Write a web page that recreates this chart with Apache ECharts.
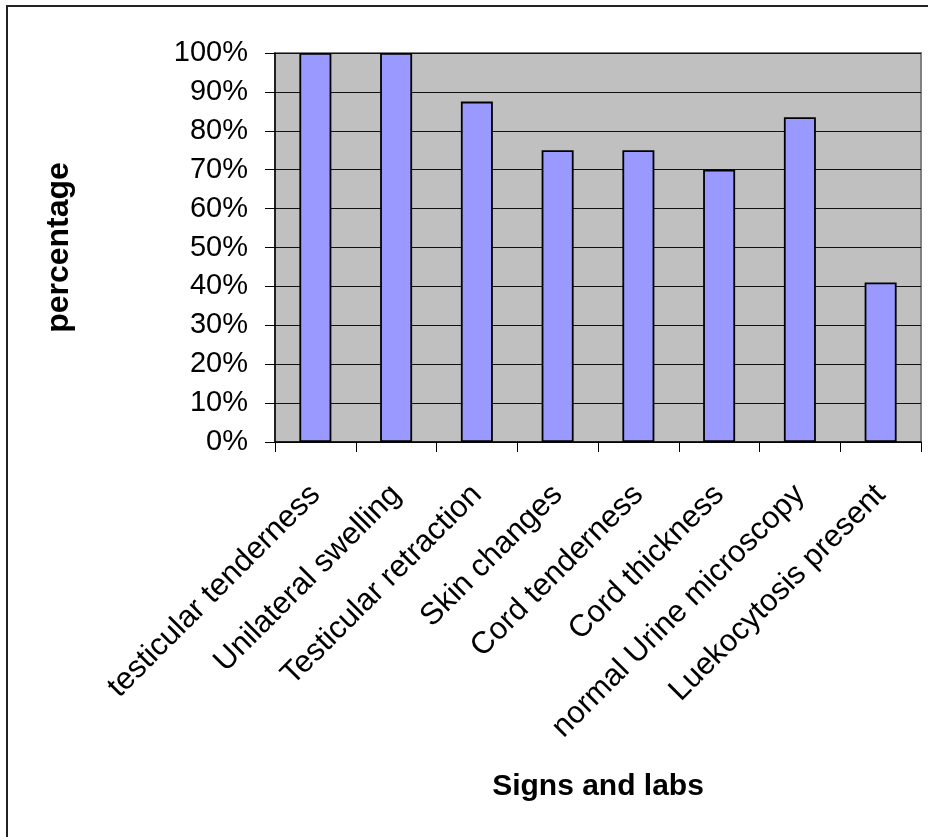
<!DOCTYPE html>
<html>
<head>
<meta charset="utf-8">
<script src="https://cdn.jsdelivr.net/npm/echarts@6/dist/echarts.min.js"></script>
<style>
html,body{margin:0;padding:0;background:#fff;}
#chart{width:928px;height:837px;}
</style>
</head>
<body>
<div id="chart"></div>
<script>
var categories = ["testicular tenderness","Unilateral swelling","Testicular retraction","Skin changes","Cord tenderness","Cord thickness","normal Urine microscopy","Luekocytosis present"];
var values = [100, 100, 87.5, 75, 75, 70, 83.5, 41];
var yTicks = [0,10,20,30,40,50,60,70,80,90,100];
var xTitle = "Signs and labs";
var yTitle = "percentage";

var chart = echarts.init(document.getElementById('chart'), null, {renderer:'canvas'});
var FONT = '"Liberation Sans", Arial, sans-serif';
chart.setOption({
  animation:false,
  backgroundColor:'#ffffff',
  graphic:[{
    type:'rect', silent:true, z:0,
    shape:{x:7, y:6, width:940, height:850},
    style:{fill:null, stroke:'#222', lineWidth:2}
  }],
  grid:{left:275, top:53, right:7, bottom:395, show:true, backgroundColor:'#C0C0C0', borderColor:'#808080', borderWidth:2},
  xAxis:{
    type:'category', data:categories,
    name:xTitle, nameLocation:'middle', nameGap:330,
    nameTextStyle:{fontFamily:FONT, fontSize:30, fontWeight:'bold', color:'#000'},
    axisLine:{lineStyle:{color:'#000', width:1.5}},
    axisTick:{show:true, length:10, lineStyle:{color:'#000', width:1}},
    axisLabel:{rotate:45, margin:48, fontFamily:FONT, fontSize:31, color:'#000', interval:0},
    splitLine:{show:false}
  },
  yAxis:{
    type:'value', min:0, max:100, interval:10,
    name:yTitle, nameLocation:'middle', nameGap:200, nameRotate:90,
    nameTextStyle:{fontFamily:FONT, fontSize:32, fontWeight:'bold', color:'#000'},
    axisLine:{show:true, lineStyle:{color:'#000', width:1.5}},
    axisTick:{show:true, length:10, lineStyle:{color:'#000', width:1}},
    axisLabel:{margin:27, fontFamily:FONT, fontSize:29, color:'#000', formatter:function(v){return yTicks.indexOf(v)>=0 ? v+'%' : '';}},
    splitLine:{show:true, lineStyle:{color:'#111', width:1.2}}
  },
  series:[{
    type:'bar', data:values, barWidth:32,
    itemStyle:{color:'#9999FF', borderColor:'#000', borderWidth:1.8}
  }]
});
</script>
</body>
</html>
